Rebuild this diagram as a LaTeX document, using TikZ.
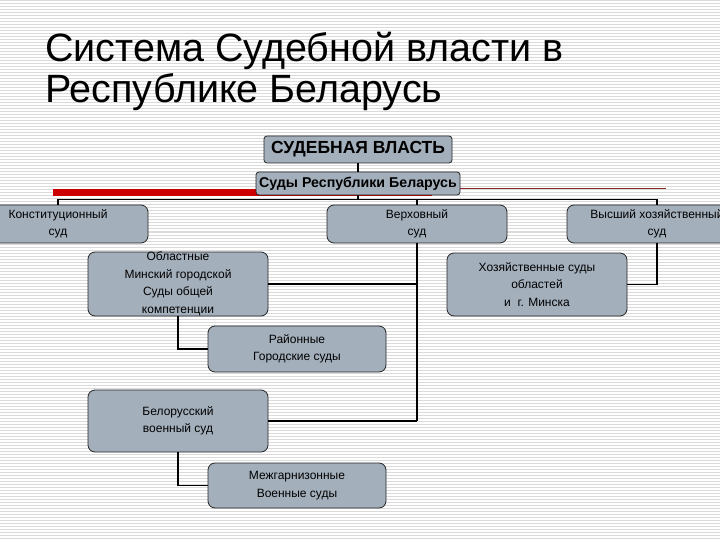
\documentclass[tikz,border=0pt]{standalone}
\usepackage{fontspec}
\setmainfont{Liberation Sans}
\definecolor{boxgray}{RGB}{164,175,188}
\definecolor{stripegray}{RGB}{218,218,218}
\definecolor{barred}{RGB}{204,0,0}
\definecolor{thinred}{RGB}{140,40,40}
\tikzset{
  box/.style={draw=black!85, fill=boxgray, rounded corners=7pt, align=center,
    font=\fontsize{12}{17.5}\selectfont, line width=0.8pt, inner sep=0pt},
  topbox/.style={draw=black!85, fill=boxgray, rounded corners=3pt, align=center,
    line width=0.8pt, inner sep=0pt},
  conn/.style={line width=1.8pt, black},
  stripe/.style={line width=1pt, stripegray},
}
\begin{document}
\begin{tikzpicture}[x=1pt,y=-1pt]
\useasboundingbox (0,0) rectangle (720,540);
\clip (0,0) rectangle (720,540);
\fill[white] (0,0) rectangle (720,540);
\foreach \yy in {1,4,...,540} \draw[stripe] (0,\yy) -- (720,\yy);

% title
\node[anchor=base west, inner sep=0pt, font=\fontsize{39.5}{42}\selectfont] (t1) at (45,62) {Система Судебной власти в};
\node[anchor=base west, inner sep=0pt, font=\fontsize{39.5}{42}\selectfont] (t2) at (45,103) {Республике Беларусь};

% decoration
\fill[barred] (53,189) rectangle (432,196);
\draw[thinred, line width=0.8pt] (440,188) -- (666,188);

% top boxes
\node[topbox, minimum width=188pt, minimum height=27pt, font=\bfseries\fontsize{17.5}{19}\selectfont] (sv) at (358,149.5) {СУДЕБНАЯ ВЛАСТЬ};
\node[topbox, minimum width=204pt, minimum height=23pt, font=\bfseries\fontsize{14.2}{16}\selectfont] (srb) at (358,183.5) {Суды Республики Беларусь};

% level 2
\node[box, minimum width=180pt, minimum height=38pt] (ks) at (58,224) {Конституционный\\суд};
\node[box, minimum width=180pt, minimum height=38pt] (vs) at (417,224) {Верховный\\суд};
\node[box, minimum width=180pt, minimum height=38pt] (vhs) at (657,224) {Высший хозяйственный\\суд};

% level 3
\node[box, minimum width=180pt, minimum height=64pt] (obl) at (178,284) {Областные\\Минский городской\\Суды общей\\компетенции};
\node[box, minimum width=180pt, minimum height=63pt] (hs) at (537,284.5) {Хозяйственные суды\\областей\\и~~г. Минска};
\node[box, minimum width=178pt, minimum height=46pt] (rs) at (297,349) {Районные\\Городские суды};
\node[box, minimum width=180pt, minimum height=62pt] (bvs) at (178,421) {Белорусский\\военный суд};
\node[box, minimum width=178pt, minimum height=45pt] (mvs) at (297,485.5) {Межгарнизонные\\Военные суды};

% connectors
\coordinate (bus) at (358,199.5);
\draw[conn] (sv.south) -- (srb.north);
\draw[conn] (srb.south) -- (bus);
\draw[conn] (ks.north) |- (bus) -| (vhs.north);
\draw[conn] (vs.north) -- (vs.north |- bus);
\coordinate (vsend) at (417,421);
\draw[conn] (vs.south) -- (vsend);
\draw[conn] (obl.east) -- (obl.east -| vs.south);
\draw[conn] (bvs.east) -- (vsend);
\draw[conn] (vhs.south) |- (hs.east);
\draw[conn] (obl.south) |- (rs.west);
\draw[conn] (bvs.south) |- (mvs.west);
\end{tikzpicture}
\end{document}
